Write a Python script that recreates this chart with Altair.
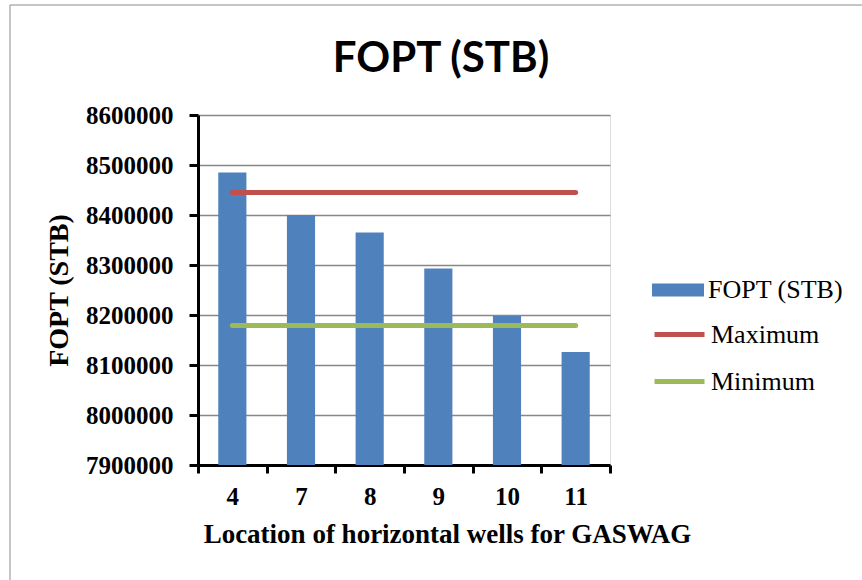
import altair as alt
import pandas as pd

categories = ["4", "7", "8", "9", "10", "11"]
fopt_values = [8485000, 8400000, 8365000, 8293000, 8198000, 8126000]
maximum_values = [8445000, 8445000, 8445000, 8445000, 8445000, 8445000]
minimum_values = [8179000, 8179000, 8179000, 8179000, 8179000, 8179000]
y_ticks = [7900000, 8000000, 8100000, 8200000, 8300000, 8400000, 8500000, 8600000]
bar_name = ["FOPT (STB)"]
bar_color = ["#4F81BD"]
line_names = ["Maximum", "Minimum"]
line_colors = ["#C0504D", "#9BBB59"]

bars_df = pd.DataFrame({"cat": categories, "value": fopt_values, "series": bar_name[0]})
lines_df = pd.concat([
    pd.DataFrame({"cat": categories, "value": maximum_values, "series": line_names[0]}),
    pd.DataFrame({"cat": categories, "value": minimum_values, "series": line_names[1]}),
])

W, H = 412, 350
serif = "Liberation Serif"

legend_common = dict(
    title=None,
    orient="none",
    labelFont=serif,
    labelFontSize=26,
    labelColor="black",
    labelOffset=4,
    padding=0,
)

fill = alt.Fill(
    "series:N",
    scale=alt.Scale(domain=bar_name, range=bar_color),
    legend=alt.Legend(
        legendX=454,
        legendY=149,
        symbolType="M-1,-0.25H1V0.25H-1Z",
        symbolSize=2704,
        symbolStrokeWidth=0,
        **legend_common,
    ),
)
stroke = alt.Stroke(
    "series:N",
    scale=alt.Scale(domain=line_names, range=line_colors),
    legend=alt.Legend(
        legendX=454,
        legendY=192,
        symbolType="stroke",
        symbolSize=2500,
        symbolStrokeWidth=5,
        rowPadding=6,
        **legend_common,
    ),
)

x = alt.X(
    "cat:N",
    sort=categories,
    scale=alt.Scale(paddingInner=0, paddingOuter=0),
    axis=alt.Axis(
        title="Location of horizontal wells for GASWAG",
        labelAngle=0,
        tickBand="extent",
        grid=False,
        domainColor="black",
        domainWidth=3,
        tickColor="black",
        tickWidth=3,
        tickSize=8,
        labelFont=serif,
        labelFontSize=25,
        labelFontWeight="bold",
        labelColor="black",
        labelPadding=11,
        titleFont=serif,
        titleFontSize=27,
        titleFontWeight="bold",
        titleColor="black",
        titlePadding=12,
        titleX=249,
        titleAnchor="middle",
    ),
)

y = alt.Y(
    "value:Q",
    scale=alt.Scale(domain=[7900000, 8600000], nice=False, zero=False),
    axis=alt.Axis(
        title="FOPT (STB)",
        values=y_ticks,
        format="d",
        grid=True,
        gridColor="#878787",
        gridWidth=1.5,
        domainColor="black",
        domainWidth=3,
        tickColor="black",
        tickWidth=3,
        tickSize=9,
        labelFont=serif,
        labelFontSize=25,
        labelFontWeight="bold",
        labelColor="black",
        labelPadding=16,
        titleFont=serif,
        titleFontSize=28,
        titleFontWeight="bold",
        titleColor="black",
        titlePadding=12,
    ),
)

bars = alt.Chart(bars_df).mark_bar(width={"band": 0.41}, clip=True).encode(x=x, y=y, fill=fill)
lines = alt.Chart(lines_df).mark_line(strokeWidth=5, strokeCap="round").encode(
    x=x, y=y, stroke=stroke
)
border = alt.Chart(pd.DataFrame({"k": [0]})).mark_rect(
    fill=None, stroke="#8c8c8c", strokeWidth=1
).encode(x=alt.value(-188), x2=alt.value(680), y=alt.value(-110), y2=alt.value(480))

chart = alt.layer(border, bars, lines).properties(
    width=W,
    height=H,
    title=alt.TitleParams(
        "FOPT (STB)",
        font="Lato",
        fontSize=42,
        fontWeight="bold",
        color="black",
        anchor="middle",
        frame="group",
        dx=37,
        offset=-76,
    ),
    autosize=alt.AutoSizeParams(type="none"),
    padding={"left": 198, "top": 115, "right": 252, "bottom": 115},
).configure_view(stroke=None).configure(background="white")

chart.save("out.html", embed_options={"renderer": "svg", "actions": False})
